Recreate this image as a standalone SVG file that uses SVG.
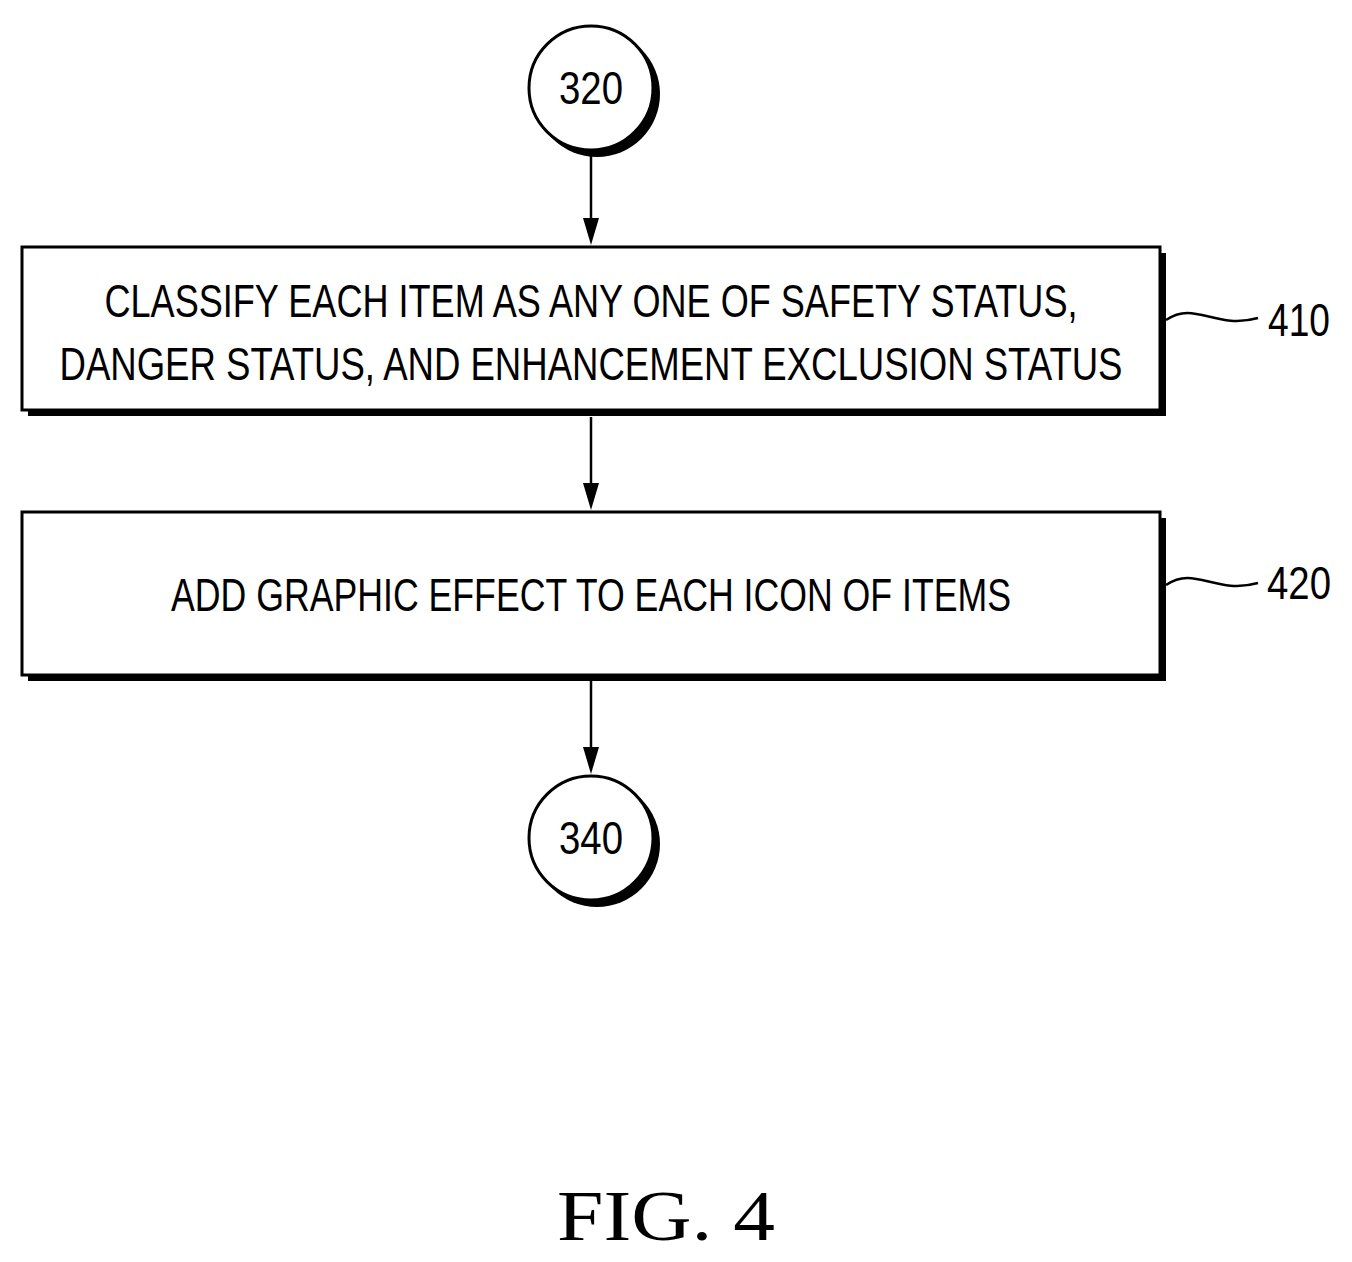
<svg xmlns="http://www.w3.org/2000/svg" width="1352" height="1262" viewBox="0 0 1352 1262">
<defs>
<style>
.t{font-family:"Liberation Sans",Arial,sans-serif;font-size:46px;fill:#000}
.sh{fill:#000}
.bx{fill:#fff;stroke:#000;stroke-width:3}
.ln{stroke:#000;stroke-width:2.5;fill:none}
.ah{fill:#000}
</style>
</defs>
<g id="connectors">
<line class="ln" x1="591" y1="152" x2="591" y2="225"/>
<polygon class="ah" points="583,218 599,218 591,245"/>
<line class="ln" x1="591" y1="417" x2="591" y2="490"/>
<polygon class="ah" points="583,483 599,483 591,510"/>
<line class="ln" x1="591" y1="681" x2="591" y2="753"/>
<polygon class="ah" points="583,747 599,747 591,774"/>
<path class="ln" d="M1166,320 C1195,300 1215,330 1258,318"/>
<path class="ln" d="M1166,585 C1195,565 1215,595 1258,583"/>
</g>
<g id="n320">
<circle class="sh" cx="597" cy="94" r="63"/>
<circle class="bx" cx="591" cy="88" r="62"/>
<text class="t" x="591" y="104" text-anchor="middle" textLength="64" lengthAdjust="spacingAndGlyphs">320</text>
</g>
<g id="n410">
<rect class="sh" x="28" y="253" width="1138" height="163"/>
<rect class="bx" x="22" y="247" width="1138" height="163"/>
<text class="t" x="591" y="317" text-anchor="middle" textLength="973" lengthAdjust="spacingAndGlyphs">CLASSIFY EACH ITEM AS ANY ONE OF SAFETY STATUS,</text>
<text class="t" x="591" y="380" text-anchor="middle" textLength="1063" lengthAdjust="spacingAndGlyphs">DANGER STATUS, AND ENHANCEMENT EXCLUSION STATUS</text>
<text class="t" x="1299" y="336" text-anchor="middle" textLength="62" lengthAdjust="spacingAndGlyphs">410</text>
</g>
<g id="n420">
<rect class="sh" x="28" y="518" width="1138" height="163"/>
<rect class="bx" x="22" y="512" width="1138" height="163"/>
<text class="t" x="591" y="611" text-anchor="middle" textLength="840" lengthAdjust="spacingAndGlyphs">ADD GRAPHIC EFFECT TO EACH ICON OF ITEMS</text>
<text class="t" x="1299" y="599" text-anchor="middle" textLength="64" lengthAdjust="spacingAndGlyphs">420</text>
</g>
<g id="n340">
<circle class="sh" cx="597" cy="844" r="63"/>
<circle class="bx" cx="591" cy="838" r="62"/>
<text class="t" x="591" y="854" text-anchor="middle" textLength="64" lengthAdjust="spacingAndGlyphs">340</text>
</g>
<text x="666" y="1240" text-anchor="middle" font-family="Liberation Serif,serif" font-size="72" textLength="218" lengthAdjust="spacingAndGlyphs">FIG. 4</text>
</svg>
